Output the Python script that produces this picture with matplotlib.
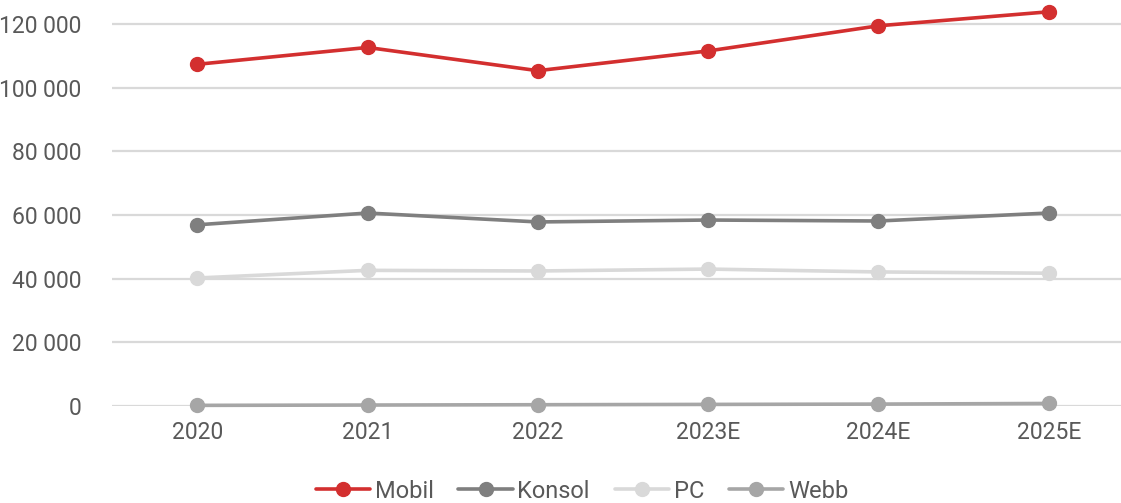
import numpy as np
import matplotlib.pyplot as plt

plt.rcParams['font.family'] = ['Roboto', 'DejaVu Sans']

# data
years = ["2020", "2021", "2022", "2023E", "2024E", "2025E"]
mobil = [107300, 112600, 105300, 111500, 119400, 123800]
konsol = [56900, 60600, 57800, 58400, 58100, 60600]
pc = [40200, 42600, 42400, 43000, 42100, 41700]
webb = [200, 300, 400, 500, 600, 800]

series = [("Mobil", mobil, "#d32f2f"),
          ("Konsol", konsol, "#7f7f7f"),
          ("PC", pc, "#d9d9d9"),
          ("Webb", webb, "#a6a6a6")]

W, H = 1121, 503
fig = plt.figure(figsize=(W / 100, H / 100), dpi=100)
ax = fig.add_axes([112 / W, (H - 406) / H, 1022 / W, 406 / H])

x = np.arange(len(years))
for name, vals, col in series:
    ax.plot(x, vals, color=col, lw=2.6, marker="o", ms=10, label=name,
            clip_on=False, solid_capstyle="round")

ax.set_xlim(-0.5, len(years) - 0.5)
ax.set_ylim(0, 127500)
ax.set_yticks(np.arange(0, 120001, 20000))
ax.set_yticklabels([f"{v:,}".replace(",", " ") for v in range(0, 120001, 20000)])
ax.set_xticks(x)
ax.set_xticklabels(years)
ax.grid(axis="y", color="#d9d9d9", lw=1.6)
ax.set_axisbelow(True)
for s in ax.spines.values():
    s.set_visible(False)
ax.tick_params(length=0, labelsize=16.5, colors="#595959")
ax.tick_params(axis="y", pad=22)
ax.tick_params(axis="x", pad=11)

leg = fig.legend(loc="center", bbox_to_anchor=(582 / W, 1 - 491 / H), ncol=4,
                 frameon=False, fontsize=17, handlelength=2.3,
                 columnspacing=1.05, handletextpad=0.2, borderpad=0)
for t in leg.get_texts():
    t.set_color("#595959")

fig.savefig("out.png", dpi=100)
